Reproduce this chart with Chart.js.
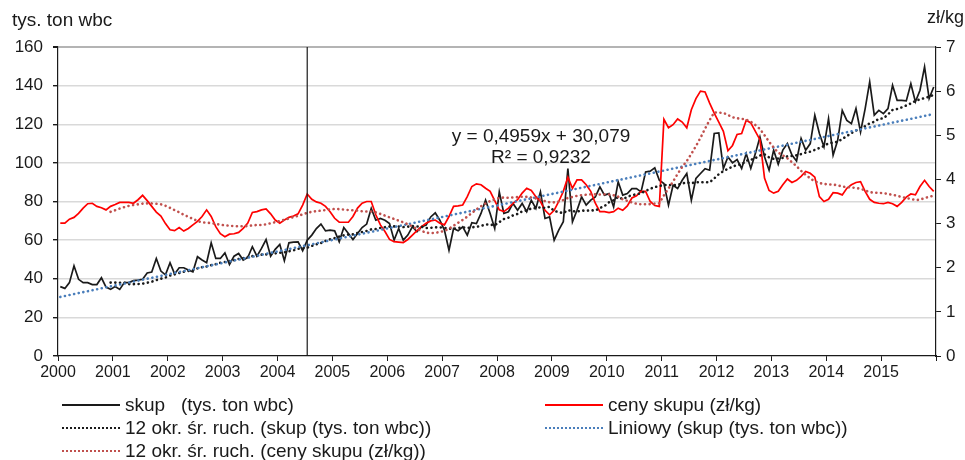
<!DOCTYPE html>
<html>
<head>
<meta charset="utf-8">
<script src="https://cdn.jsdelivr.net/npm/chart.js@4.4.1/dist/chart.umd.min.js"></script>
<style>
  body { margin: 0; background: #fff; }
  #wrap { position: relative; width: 965px; height: 460px; overflow: hidden; font-family: "Liberation Sans", Arial, sans-serif; color: #1a1a1a; }
  canvas { position: absolute; left: 0; top: 0; }
  .leg { position: absolute; font-size: 19px; white-space: pre; display: flex; align-items: center; height: 22px; }
  .leg i { display: inline-block; width: 58px; margin-right: 5px; }
</style>
</head>
<body>
<div id="wrap">
  <canvas id="chart" width="965" height="460"></canvas>
  <div class="leg" style="left:62px;top:394px"><i style="border-top:2px solid #1a1a1a"></i>skup   (tys. ton wbc)</div>
  <div class="leg" style="left:545px;top:394px"><i style="border-top:2px solid #ff0000"></i>ceny skupu (zł/kg)</div>
  <div class="leg" style="left:62px;top:417px"><i style="border-top:2px dotted #1a1a1a"></i>12 okr. śr. ruch. (skup (tys. ton wbc))</div>
  <div class="leg" style="left:545px;top:417px"><i style="border-top:2px dotted #4a7ebb"></i>Liniowy (skup (tys. ton wbc))</div>
  <div class="leg" style="left:62px;top:440px"><i style="border-top:2px dotted #c0504d"></i>12 okr. śr. ruch. (ceny skupu (zł/kg))</div>
</div>
<script>
// lata na osi X (miesiące od stycznia 2000)
const years = [2000, 2001, 2002, 2003, 2004, 2005, 2006, 2007, 2008, 2009, 2010, 2011, 2012, 2013, 2014, 2015];

// skup, tys. ton wbc, miesięcznie
const skup = [
  35.9, 35, 38, 46.7, 39.7, 38, 38, 37, 37, 40.5, 35.7, 34.5,
  36, 34.5, 38, 38, 39, 39.3, 39.7, 43, 43.5, 50.5, 44, 42,
  48.3, 42.5, 45.7, 45.7, 44.5, 43.6, 51.4, 49.7, 48.3, 58.6, 50.5, 50.5,
  53.4, 47.4, 51.7, 53.1, 49.7, 51, 56.6, 51.7, 55.7, 60.3, 51.7, 55.2,
  57.8, 49.3, 58.6, 59, 59.1, 54.5, 60, 62.6, 66, 68.3, 64.8, 65.2,
  64.8, 59.1, 66.5, 63.4, 60.3, 63.4, 66.5, 68.3, 76.4, 70.3, 71.2, 70.3,
  68.6, 60, 66, 60, 62.6, 66.9, 64.3, 66.9, 67.8, 72, 74.1, 70.3,
  65.2, 54.8, 66, 64.8, 66.9, 62.6, 69, 68.6, 73.8, 80.7, 73.8, 66,
  85, 73.8, 74.7, 79, 75.5, 79, 74.7, 80.7, 76.4, 85, 71.2, 72,
  60, 65.2, 69.5, 97, 69.5, 75.5, 82.4, 78.1, 80.7, 82.4, 87.6, 83.3,
  84.1, 77.2, 90.2, 83.3, 84.1, 86.7, 86.7, 85, 95.3, 95.7, 97.4, 91,
  89.3, 78.1, 88.4, 86.7, 91, 94.5, 80.7, 91.9, 94.5, 97, 96.2, 115.2,
  115.5, 97, 103.1, 100, 101.7, 97.1, 104.8, 97.1, 104.8, 113.4, 103.1, 96.2,
  106.6, 99.3, 106.6, 110, 104, 101, 112.6, 106.6, 110, 124.7, 115.2, 108.3,
  122.9, 104, 111.7, 127.2, 122, 120.3, 128.1, 116, 128, 141.9, 124.7, 127.2,
  125.5, 128.1, 140.2, 132.4, 132.4, 132.1, 141, 131.6, 137.6, 149.7, 133.3, 139.3
];

// ceny skupu, zł/kg, miesięcznie
const ceny = [
  3.01, 3.01, 3.1, 3.14, 3.23, 3.35, 3.45, 3.46, 3.39, 3.36, 3.31, 3.39,
  3.43, 3.48, 3.48, 3.48, 3.46, 3.54, 3.64, 3.52, 3.39, 3.26, 3.17, 3.0,
  2.86, 2.84, 2.91, 2.83, 2.89, 2.97, 3.05, 3.16, 3.31, 3.16, 2.93, 2.77,
  2.7, 2.76, 2.77, 2.8, 2.89, 3.01, 3.25, 3.27, 3.31, 3.33, 3.22, 3.08,
  3.01, 3.08, 3.14, 3.17, 3.22, 3.42, 3.67, 3.55, 3.49, 3.46, 3.39, 3.27,
  3.12, 3.03, 3.03, 3.03, 3.16, 3.35, 3.46, 3.5, 3.5, 3.2, 2.97, 2.82,
  2.64, 2.59, 2.58, 2.57, 2.64, 2.74, 2.84, 2.93, 3.01, 3.06, 3.08, 3.01,
  2.97, 3.16, 3.39, 3.4, 3.42, 3.61, 3.84, 3.9, 3.88, 3.8, 3.73, 3.52,
  3.31, 3.27, 3.35, 3.46, 3.54, 3.69, 3.8, 3.75, 3.61, 3.5, 3.3, 3.2,
  3.3, 3.5, 3.73, 4.05, 3.8, 3.99, 3.99, 3.88, 3.73, 3.46, 3.27, 3.27,
  3.25, 3.27, 3.35, 3.3, 3.4, 3.58, 3.63, 3.73, 3.73, 3.5, 3.41, 3.39,
  5.36, 5.17, 5.24, 5.37, 5.3, 5.17, 5.58, 5.83, 6.0, 5.98, 5.73, 5.5,
  5.3, 5.09, 4.65, 4.77, 5.02, 5.04, 5.34, 5.28, 5.09, 4.9, 4.03, 3.75,
  3.69, 3.73, 3.88, 4.01, 3.93, 3.98, 4.07, 4.18, 4.14, 4.05, 3.61, 3.5,
  3.55, 3.7, 3.69, 3.65, 3.8, 3.88, 3.93, 3.95, 3.73, 3.55, 3.48, 3.46,
  3.45, 3.48, 3.45, 3.39, 3.48, 3.6, 3.67, 3.65, 3.84, 3.98, 3.84, 3.73
];

// linia trendu z wykresu: y = 0,4959x + 30,079, R² = 0,9232
const trendSlope = 0.4959;
const trendIntercept = 30.079;
const trendR2 = 0.9232;
const maPeriod = 12;
const markerMonth = 54; // pionowa linia, połowa 2004

const fmt = (v) => String(v).replace('.', ',');

function movingAvg(arr, n) {
  return arr.map((v, i) => {
    if (i < n - 1) return null;
    let s = 0;
    for (let k = i - n + 1; k <= i; k++) s += arr[k];
    return s / n;
  });
}

const pts = (arr) => arr.map((v, i) => ({ x: i, y: v }));
const skupMA = movingAvg(skup, maPeriod);
const cenyMA = movingAvg(ceny, maPeriod);
const trend = skup.map((v, i) => trendSlope * (i + 1) + trendIntercept);

const dotted = { borderDash: [0.1, 4.6], borderCapStyle: 'round', borderWidth: 2.6 };

const extras = {
  id: 'extras',
  afterDatasetsDraw(chart) {
    const { ctx, chartArea: a, scales } = chart;
    ctx.save();
    const px = scales.x.getPixelForValue(markerMonth);
    ctx.strokeStyle = '#1a1a1a';
    ctx.lineWidth = 1.2;
    ctx.beginPath();
    ctx.moveTo(px, a.top);
    ctx.lineTo(px, a.bottom);
    ctx.stroke();

    ctx.fillStyle = '#1a1a1a';
    ctx.font = '19px "Liberation Sans", Arial, sans-serif';
    ctx.textAlign = 'center';
    ctx.textBaseline = 'middle';
    ctx.fillText('y = ' + fmt(trendSlope) + 'x + ' + fmt(trendIntercept), 541, 137);
    ctx.fillText('R² = ' + fmt(trendR2), 541, 158);

    ctx.font = '19px "Liberation Sans", Arial, sans-serif';
    ctx.textAlign = 'left';
    ctx.fillText('tys. ton wbc', 12, 21);
    ctx.font = '18px "Liberation Sans", Arial, sans-serif';
    ctx.textAlign = 'right';
    ctx.fillText('zł/kg', 964, 18);
    ctx.restore();
  }
};

Chart.defaults.font.family = '"Liberation Sans", Arial, sans-serif';
Chart.defaults.font.size = 17;
Chart.defaults.color = '#1a1a1a';

new Chart(document.getElementById('chart'), {
  type: 'line',
  data: {
    datasets: [
      { label: 'skup   (tys. ton wbc)', data: pts(skup), yAxisID: 'y', borderColor: '#1a1a1a', borderWidth: 1.7, order: 5 },
      { label: 'ceny skupu (zł/kg)', data: pts(ceny), yAxisID: 'y2', borderColor: '#ff0000', borderWidth: 1.7, order: 4 },
      { label: '12 okr. śr. ruch. (skup (tys. ton wbc))', data: pts(skupMA), yAxisID: 'y', borderColor: '#1a1a1a', ...dotted, order: 3 },
      { label: 'Liniowy (skup (tys. ton wbc))', data: pts(trend), yAxisID: 'y', borderColor: '#4a7ebb', ...dotted, order: 2 },
      { label: '12 okr. śr. ruch. (ceny skupu (zł/kg))', data: pts(cenyMA), yAxisID: 'y2', borderColor: '#c0504d', ...dotted, order: 1 }
    ]
  },
  options: {
    responsive: false,
    animation: false,
    devicePixelRatio: 1,
    layout: { padding: { top: 47, bottom: 79, left: 0, right: 0 } },
    elements: { point: { radius: 0 }, line: { tension: 0 } },
    plugins: { legend: { display: false }, tooltip: { enabled: false } },
    scales: {
      x: {
        type: 'linear',
        min: -0.5,
        max: 191.5,
        afterBuildTicks: (axis) => {
          axis.ticks = years.map((y, k) => ({ value: k * 12 - 0.5 })).concat([{ value: 191.5 }]);
        },
        afterFit: (axis) => { axis.height = 25; },
        ticks: {
          autoSkip: false,
          maxRotation: 0,
          padding: 2,
          font: { size: 16 },
          callback: (v) => {
            const k = Math.round((v + 0.5) / 12);
            return k < years.length ? String(years[k]) : '';
          }
        },
        grid: { drawOnChartArea: false, drawTicks: true, tickLength: 5, tickColor: '#1a1a1a' },
        border: { color: '#1a1a1a', width: 1.2 }
      },
      y: {
        position: 'left',
        min: 0,
        max: 160,
        afterFit: (axis) => { axis.width = 58; },
        ticks: { stepSize: 20, padding: 10 },
        grid: {
          color: (c) => c.tick.value === 160 ? '#b4b4b4' : (c.tick.value === 0 ? 'rgba(0,0,0,0)' : '#d9d9d9'),
          lineWidth: (c) => c.tick.value === 160 ? 2 : 1.4,
          tickLength: 5,
          tickColor: '#1a1a1a'
        },
        border: { color: '#1a1a1a', width: 1.2 }
      },
      y2: {
        position: 'right',
        min: 0,
        max: 7,
        afterFit: (axis) => { axis.width = 29; },
        ticks: { stepSize: 1, padding: 5 },
        grid: { drawOnChartArea: false, tickLength: 5, tickColor: '#1a1a1a' },
        border: { color: '#1a1a1a', width: 1.2 }
      }
    }
  },
  plugins: [extras]
});
</script>
</body>
</html>
